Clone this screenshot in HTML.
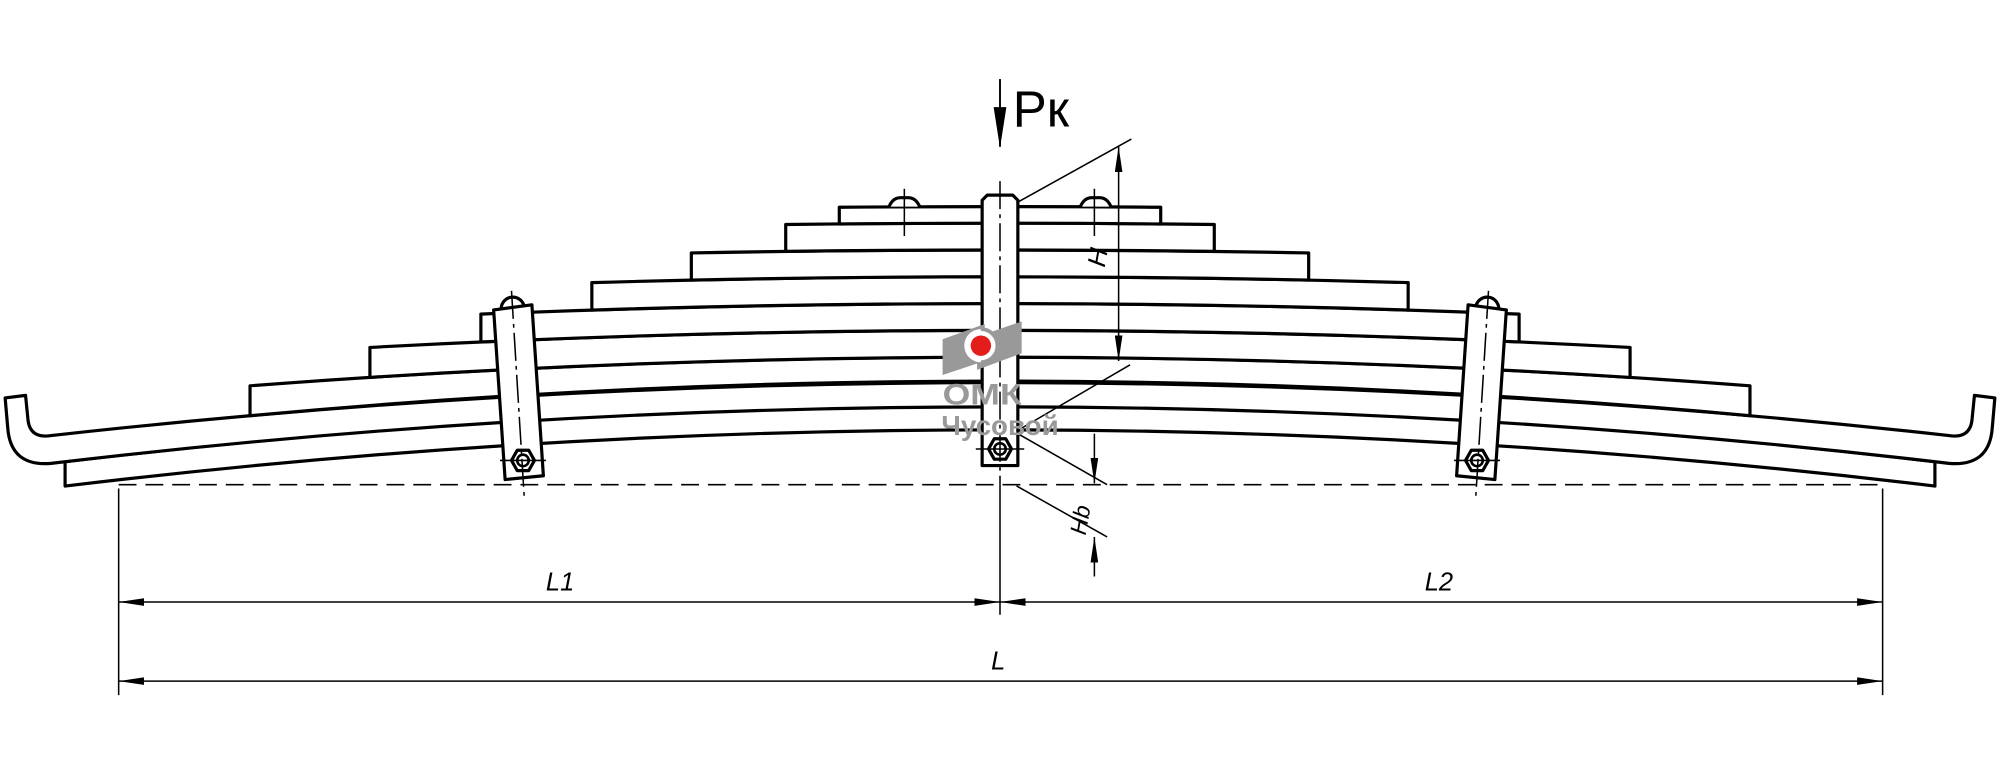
<!DOCTYPE html>
<html><head><meta charset="utf-8"><style>html,body{margin:0;padding:0;background:#fff}svg{display:block}</style></head><body>
<svg width="2000" height="764" viewBox="0 0 1568 599" xmlns="http://www.w3.org/2000/svg" font-family="Liberation Sans, sans-serif">
<defs>
<marker id="ar" viewBox="0 0 20 6" refX="20" refY="3" markerWidth="20" markerHeight="6" markerUnits="userSpaceOnUse" orient="auto-start-reverse"><path d="M0,0 L20,3 L0,6 Z" fill="#000"/></marker>
</defs>
<g fill="#fff" stroke="#000" stroke-width="2.5" stroke-linejoin="round">
<path d="M51,362 Q784,274.7 1517,362 L1517,381.1 Q784,292.9 51,381.1 Z"/>
<path d="M40,341.5 Q784,258.5 1528,341.5 Q1544,344 1546,330 L1548,310 L1564,312 L1562,335 Q1560,366 1528,363.3 Q784,274.7 40,363.3 Q8,366 6,335 L4,312 L20,310 L22,330 Q24,344 40,341.5 Z"/>
<path d="M196,302.5 Q784,257.5 1372,302.5 L1372,325.9 Q784,271.6 196,325.9 Z"/>
<path d="M290,272.4 Q784,245.6 1278,272.4 L1278,295.9 Q784,264.3 290,295.9 Z"/>
<path d="M377,246.3 Q784,229.7 1191,246.3 L1191,268.1 Q784,249.9 377,268.1 Z"/>
<path d="M464,221.6 Q784,212.4 1104,221.6 L1104,243.1 Q784,232.9 464,243.1 Z"/>
<path d="M542,198.3 Q784,193.7 1026,198.3 L1026,219.6 Q784,214.4 542,219.6 Z"/>
<path d="M616,176 Q784,174 952,176 L952,197.1 Q784,194.9 616,197.1 Z"/>
<path d="M658,162.5 Q784,161.5 910,162.5 L910,175.6 Q784,174.4 658,175.6 Z"/>
<path d="M697,162 Q700,155 706,155 L712,155 Q718,155 721,162"/>
<path d="M847,162 Q850,155 856,155 L862,155 Q868,155 871,162"/>
<path d="M393,243 A9,9 0 0 1 411,241"/>
<polygon points="387,243 417,239 426,373 396,376"/>
<path d="M1175,243 A9,9 0 0 0 1157,241"/>
<polygon points="1181,243 1151,239 1142,373 1172,376"/>
<path d="M770,365 L770,157 L774,153 L794,153 L798,157 L798,365 Z"/>
<polygon points="401,361 405.5,353 414.5,353 419,361 414.5,369 405.5,369"/>
<polygon points="1149,361 1153.5,353 1162.5,353 1167,361 1162.5,369 1153.5,369"/>
<polygon points="775,352 779.5,344 788.5,344 793,352 788.5,360 779.5,360"/>
</g>
<g fill="none" stroke="#000" stroke-width="1.2">
<line x1="392" y1="361" x2="428" y2="361"/><line x1="1140" y1="361" x2="1176" y2="361"/><line x1="765" y1="352" x2="803" y2="352"/>
<line x1="709" y1="148" x2="709" y2="185"/><line x1="858" y1="148" x2="858" y2="185"/>
<line x1="401" y1="228" x2="411" y2="390" stroke-dasharray="22,4,3,4"/>
<line x1="1167" y1="228" x2="1157" y2="390" stroke-dasharray="22,4,3,4"/>
<line x1="784" y1="142" x2="784" y2="380" stroke-dasharray="22,4,3,4"/>
<line x1="784" y1="380" x2="784" y2="482"/>
<line x1="93" y1="380" x2="1476" y2="380" stroke-dasharray="14,7"/>
<line x1="93" y1="383" x2="93" y2="545"/>
<line x1="1476" y1="383" x2="1476" y2="545"/>
<line x1="93" y1="472" x2="784" y2="472" marker-start="url(#ar)" marker-end="url(#ar)"/>
<line x1="784" y1="472" x2="1476" y2="472" marker-start="url(#ar)" marker-end="url(#ar)"/>
<line x1="93" y1="534" x2="1476" y2="534" marker-start="url(#ar)" marker-end="url(#ar)"/>
<line x1="797" y1="159" x2="887" y2="109"/>
<line x1="797" y1="338" x2="886" y2="286"/>
<line x1="877" y1="115" x2="877" y2="283" marker-start="url(#ar)" marker-end="url(#ar)"/>
<line x1="798" y1="340" x2="868" y2="380"/>
<line x1="797" y1="381" x2="868" y2="421"/>
<line x1="858" y1="340" x2="858" y2="379" marker-end="url(#ar)"/>
<line x1="858" y1="452" x2="858" y2="421" marker-end="url(#ar)"/>
<line x1="784" y1="62" x2="784" y2="115" stroke-width="1.5"/>
</g>
<g fill="none" stroke="#000" stroke-width="2">
<circle cx="410" cy="361" r="4.5"/><circle cx="1158" cy="361" r="4.5"/><circle cx="784" cy="352" r="4.5"/>
</g>
<path d="M779,84 L784,116 L789,84 Z" fill="#000"/>
<text x="794" y="99" font-size="40">Pк</text>
<g font-style="italic" font-size="20" fill="#000">
<text x="428" y="463">L1</text>
<text x="1117" y="463">L2</text>
<text x="777" y="525">L</text>
<text transform="translate(866,210) rotate(-80)">H</text>
<text transform="translate(851,420) rotate(-80)" font-size="18">Hb</text>
</g>
<g fill="#999">
<polygon points="739,266 772,254 772,283 739,294"/>
<polygon points="766,264 801,252 801,277 766,290"/>
<circle cx="769" cy="271" r="13" fill="#fff"/>
<path d="M769,258 A13,13 0 0 1 769,284" fill="none" stroke="#999" stroke-width="3"/>
<circle cx="769" cy="271" r="8" fill="#e31d1a"/>
<text x="739" y="317" font-size="23" font-weight="bold" textLength="62" lengthAdjust="spacingAndGlyphs">ОМК</text>
<text x="738" y="341" font-size="22" font-weight="bold" textLength="92" lengthAdjust="spacingAndGlyphs">Чусовой</text>
</g>
</svg>
</body></html>
